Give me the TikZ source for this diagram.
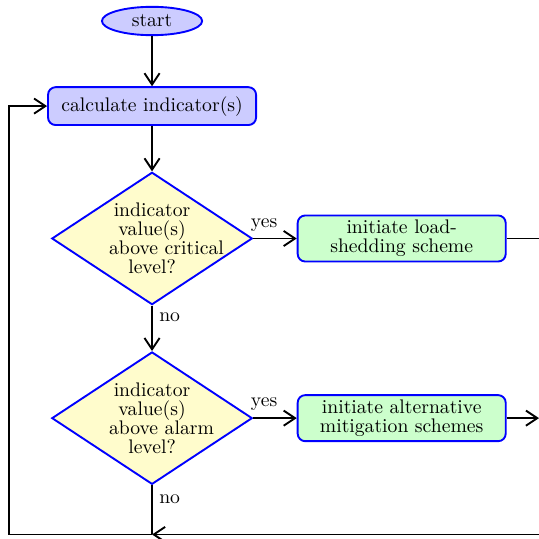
\documentclass[tikz,border=0pt]{standalone}
\usetikzlibrary{calc}
\usetikzlibrary{positioning}
\usetikzlibrary{shapes.geometric,arrows.meta}
\tikzset{
  startnode/.style={ellipse, draw=blue, fill=blue!20, minimum width=53pt, minimum height=15pt, inner sep=1pt},
  procnode/.style={rectangle, rounded corners, draw=blue, fill=blue!20, text width=100pt, align=center, minimum width=110pt, minimum height=20pt, inner ysep=2.5pt},
  actnode/.style={procnode, fill=green!20},
  decnode/.style={diamond, aspect=1.5, draw=blue, fill=yellow!20, text width=45.5pt, align=center, minimum width=106pt, minimum height=70pt, inner sep=0pt}
}

\begin{document}
\begin{tikzpicture}[node distance=24pt, line width=1pt, >={Straight Barb[length=6pt,width=8pt]}, font=\fontsize{10.4}{10}\selectfont]
    \useasboundingbox (0,0) rectangle (285pt,-284.6pt);

    \node [startnode] (start) at (80.4pt,-11.1pt) {start};
    \node [procnode, below=26.5pt of start] (calc) {calculate indicator(s)};
    \node [decnode, below=of calc] (crit) {indicator value(s) \mbox{above critical} level?};
    \node [actnode, right=23pt of crit] (shed) {initiate load-shedding scheme};
    \node [decnode, below=of crit] (alarm) {indicator value(s) \mbox{above alarm} level?};
    \node [actnode, right=23pt of alarm] (mitig) {initiate alternative mitigation schemes};

    \coordinate [below=26pt of alarm] (join);
    \coordinate (edge) at (285pt,0);

    \draw [->] (start) -- (calc);
    \draw [->] (calc) -- (crit);
    \draw [->] (crit) to node[above, pos=0.25] {yes} (shed);
    \draw [->] (crit) to node[right, pos=0.25] {no} (alarm);
    \draw [->] (alarm) to node[above, pos=0.25] {yes} (mitig);
    \draw (alarm) to node[right, pos=0.28] {no} (join);

    % leaving the picture on the right
    \draw (shed) -- (shed -| edge);
    \draw [->] (mitig) -- (mitig -| edge);
    \draw [->] (edge |- join) -- (join);

    \draw [->] (join) -| ([xshift=-20pt]calc.west) -- (calc.west);
\end{tikzpicture}
\end{document}
